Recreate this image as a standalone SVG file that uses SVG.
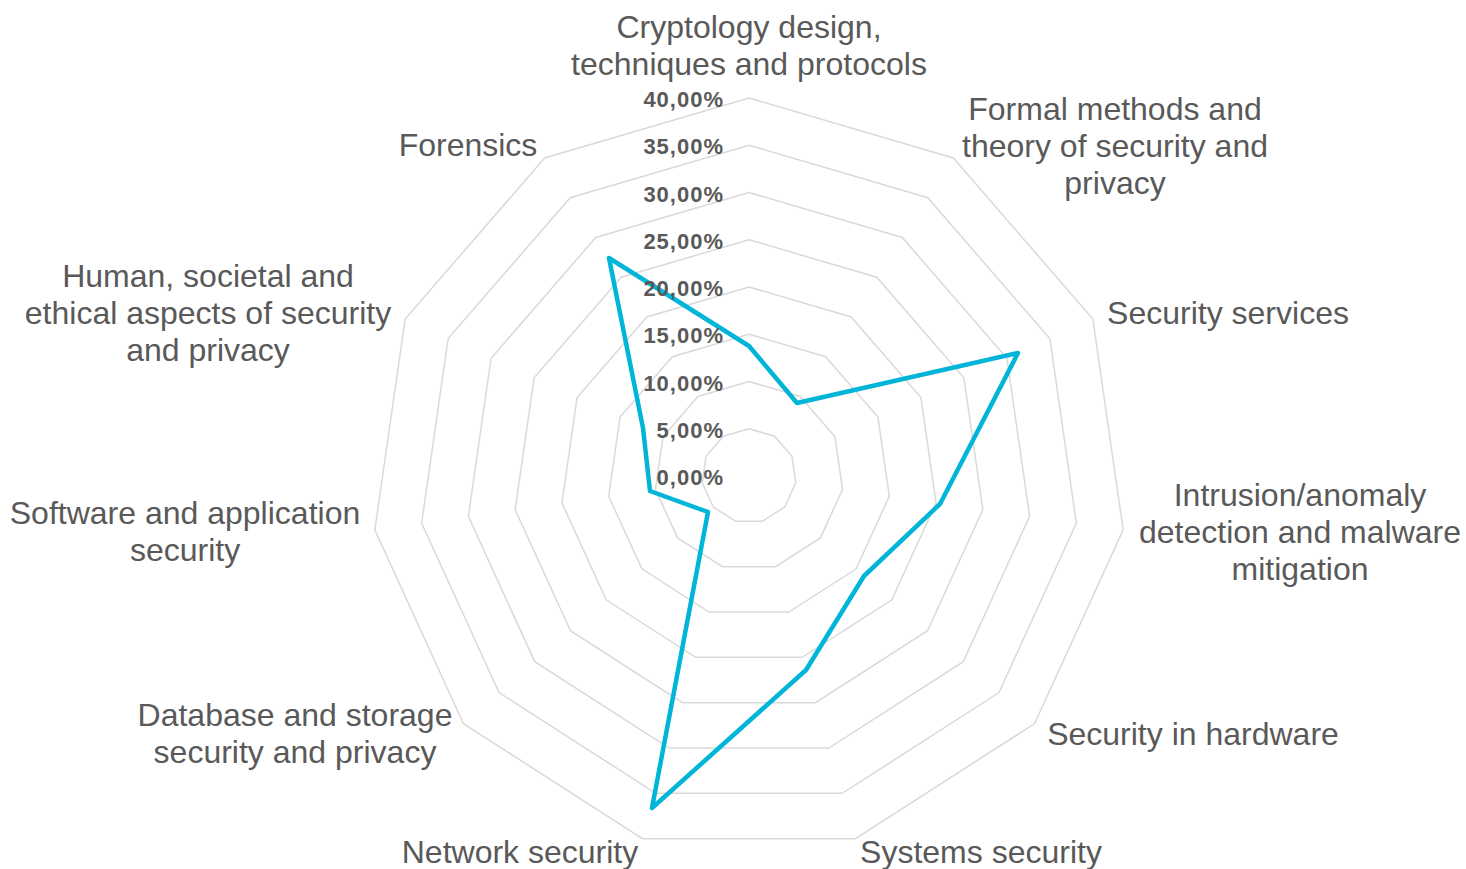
<svg xmlns="http://www.w3.org/2000/svg" width="1466" height="869" viewBox="0 0 1466 869">
<style>
.ring{fill:none;stroke:#d9d9d9;stroke-width:1.5}
.series{fill:none;stroke:#00b5d8;stroke-width:4.5;stroke-linejoin:round}
.tick{font-family:"Liberation Sans",Arial,sans-serif;font-weight:bold;font-size:22px;letter-spacing:1px;fill:#595959;text-anchor:end}
.cat{font-family:"Liberation Sans",Arial,sans-serif;font-size:32px;fill:#595959;text-anchor:middle}
</style>
<rect width="1466" height="869" fill="#ffffff"/>
<g id="grid">
<polygon class="ring" points="749,428.75 774.55,436.25 791.98,456.37 795.77,482.72 784.71,506.94 762.31,521.34 735.69,521.34 713.29,506.94 702.23,482.72 706.02,456.37 723.45,436.25"/>
<polygon class="ring" points="749,381.5 800.09,396.5 834.96,436.74 842.54,489.45 820.42,537.88 775.62,566.67 722.38,566.67 677.58,537.88 655.46,489.45 663.04,436.74 697.91,396.5"/>
<polygon class="ring" points="749,334.25 825.64,356.75 877.94,417.11 889.31,496.17 856.13,568.83 788.94,612.01 709.06,612.01 641.87,568.83 608.69,496.17 620.06,417.11 672.36,356.75"/>
<polygon class="ring" points="749,287 851.18,317 920.92,397.49 936.08,502.9 891.84,599.77 802.25,657.34 695.75,657.34 606.16,599.77 561.92,502.9 577.08,397.49 646.82,317"/>
<polygon class="ring" points="749,239.75 876.73,277.25 963.9,377.86 982.85,509.62 927.55,630.71 815.56,702.68 682.44,702.68 570.45,630.71 515.15,509.62 534.1,377.86 621.27,277.25"/>
<polygon class="ring" points="749,192.5 902.27,237.51 1006.88,358.23 1029.61,516.34 963.26,661.65 828.87,748.02 669.13,748.02 534.74,661.65 468.39,516.34 491.12,358.23 595.73,237.51"/>
<polygon class="ring" points="749,145.25 927.82,197.76 1049.86,338.6 1076.38,523.07 998.97,692.59 842.18,793.35 655.82,793.35 499.03,692.59 421.62,523.07 448.14,338.6 570.18,197.76"/>
<polygon class="ring" points="749,98 953.36,158.01 1092.84,318.97 1123.15,529.79 1034.67,723.54 855.49,838.69 642.51,838.69 463.33,723.54 374.85,529.79 405.16,318.97 544.64,158.01"/>
</g>
<g id="connectors">
<polygon id="series1" class="series" points="749,346 797,403 1018,353 940,504 864,576 806,670 652,808 708,512 650,491 643,428 609,258"/>
</g>
<g id="tick-labels">
<text class="tick" x="724" y="485">0,00%</text>
<text class="tick" x="724" y="438">5,00%</text>
<text class="tick" x="724" y="391">10,00%</text>
<text class="tick" x="724" y="343">15,00%</text>
<text class="tick" x="724" y="296">20,00%</text>
<text class="tick" x="724" y="249">25,00%</text>
<text class="tick" x="724" y="202">30,00%</text>
<text class="tick" x="724" y="154">35,00%</text>
<text class="tick" x="724" y="107">40,00%</text>
</g>
<g id="label-cryptology">
<text class="cat" x="749" y="38">Cryptology design,</text>
<text class="cat" x="749" y="75">techniques and protocols</text>
</g>
<g id="label-formal">
<text class="cat" x="1115" y="120">Formal methods and</text>
<text class="cat" x="1115" y="157">theory of security and</text>
<text class="cat" x="1115" y="194">privacy</text>
</g>
<g id="label-services">
<text class="cat" x="1228" y="324">Security services</text>
</g>
<g id="label-intrusion">
<text class="cat" x="1300" y="506">Intrusion/anomaly</text>
<text class="cat" x="1300" y="543">detection and malware</text>
<text class="cat" x="1300" y="580">mitigation</text>
</g>
<g id="label-hardware">
<text class="cat" x="1193" y="745">Security in hardware</text>
</g>
<g id="label-systems">
<text class="cat" x="981" y="863">Systems security</text>
</g>
<g id="label-network">
<text class="cat" x="520" y="863">Network security</text>
</g>
<g id="label-database">
<text class="cat" x="295" y="726">Database and storage</text>
<text class="cat" x="295" y="763">security and privacy</text>
</g>
<g id="label-software">
<text class="cat" x="185" y="524">Software and application</text>
<text class="cat" x="185" y="561">security</text>
</g>
<g id="label-human">
<text class="cat" x="208" y="287">Human, societal and</text>
<text class="cat" x="208" y="324">ethical aspects of security</text>
<text class="cat" x="208" y="361">and privacy</text>
</g>
<g id="label-forensics">
<text class="cat" x="468" y="156">Forensics</text>
</g>
</svg>
